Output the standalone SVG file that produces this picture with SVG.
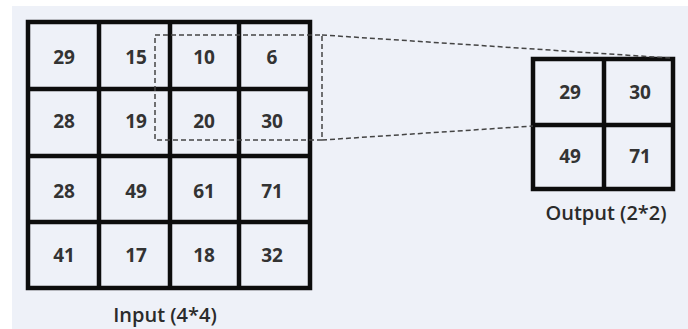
<svg xmlns="http://www.w3.org/2000/svg" width="688" height="329" viewBox="0 0 688 329">
<style>
.g{fill:none;stroke:#0d0d0d;stroke-width:4.5}
.n{font-family:"Open Sans","Liberation Sans",sans-serif;font-weight:700;font-size:19px;fill:#333;text-anchor:middle}
.l{font-family:"Open Sans","Liberation Sans",sans-serif;font-weight:600;font-size:20px;fill:#2b2b2b;text-anchor:middle}
.d{fill:none;stroke:#444;stroke-width:1.5;stroke-dasharray:5 3}
</style>
<rect width="688" height="329" fill="#fff"/>
<rect x="12" y="6" width="676" height="323" fill="#eef1f8"/>
<g id="input">
<rect x="28" y="22" width="282" height="266" class="g"/>
<path class="g" d="M99 22V288M170 22V288M239 22V288M28 89H310M28 156H310M28 222H310"/>
<text class="n" x="64" y="64">29</text><text class="n" x="136" y="64">15</text><text class="n" x="204" y="64">10</text><text class="n" x="272" y="64">6</text>
<text class="n" x="64" y="128">28</text><text class="n" x="136" y="128">19</text><text class="n" x="204" y="128">20</text><text class="n" x="272" y="128">30</text>
<text class="n" x="64" y="198">28</text><text class="n" x="136" y="198">49</text><text class="n" x="204" y="198">61</text><text class="n" x="272" y="198">71</text>
<text class="n" x="64" y="262">41</text><text class="n" x="136" y="262">17</text><text class="n" x="204" y="262">18</text><text class="n" x="272" y="262">32</text>
<text class="l" x="165" y="322">Input (4*4)</text>
</g>
<g id="output">
<rect x="533" y="59" width="140" height="130" class="g"/>
<path class="g" d="M604 59V189M533 125H673"/>
<text class="n" x="570" y="99">29</text><text class="n" x="640" y="99">30</text>
<text class="n" x="570" y="163">49</text><text class="n" x="640" y="163">71</text>
<text class="l" x="606" y="220">Output (2*2)</text>
</g>
<g id="connectors">
<rect x="155" y="35" width="167" height="105" class="d"/>
<path class="d" d="M322 35L670 58M322 140L533 126"/>
</g>
</svg>
